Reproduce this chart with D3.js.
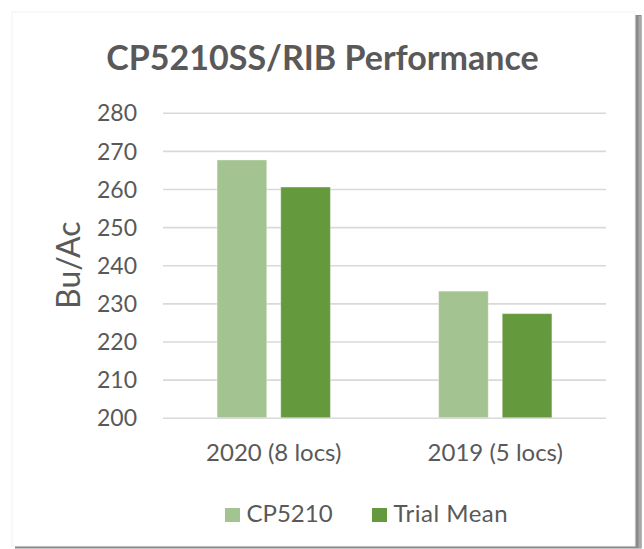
<!DOCTYPE html>
<html>
<head>
<meta charset="utf-8">
<script src="https://cdn.jsdelivr.net/npm/d3@7"></script>
<style>
  html, body { margin: 0; padding: 0; background: #ffffff; }
  svg { display: block; }
  text { font-family: Lato, "Open Sans", sans-serif; }
</style>
</head>
<body>
<svg id="chart" width="644" height="549"></svg>
<script>
const categories = ["2020 (8 locs)", "2019 (5 locs)"];
const seriesNames = ["CP5210", "Trial Mean"];
const cp5210 = [267.6, 233.2];
const trialMean = [260.5, 227.3];
const yTicks = [200, 210, 220, 230, 240, 250, 260, 270, 280];
const seriesColors = ["#A3C490", "#64993D"];
const titleText = "CP5210SS/RIB Performance";
const yTitle = "Bu/Ac";

(function () {
const svg = d3.select("#chart");

// card with shadow
svg.append("rect").attr("x", 15).attr("y", 15).attr("width", 626.5).attr("height", 533.5).attr("fill", "#8a8a8a");
svg.append("rect").attr("x", 638.5).attr("y", 16).attr("width", 3).attr("height", 532).attr("fill", "#a8a8a8");
svg.append("rect").attr("x", 12).attr("y", 12).attr("width", 623).attr("height", 534)
  .attr("fill", "#ffffff").attr("stroke", "#f2f2f2").attr("stroke-width", 1);

const pLeft = 163, pRight = 606, pTop = 112.7, pBottom = 417.7;

const y = d3.scaleLinear().domain([200, 280]).range([pBottom, pTop]);
const x0 = d3.scaleBand().domain(categories).range([pLeft, pRight]).padding(0);
const x1 = d3.scaleBand().domain(seriesNames).range([0, x0.bandwidth()])
  .paddingInner(0.22).paddingOuter(0.85);

// gridlines + y labels
const yAxis = d3.axisLeft(y).tickValues(yTicks).tickSize(-(pRight - pLeft)).tickPadding(26);
const gy = svg.append("g").attr("transform", `translate(${pLeft},0)`).call(yAxis);
gy.select(".domain").remove();
gy.selectAll(".tick line").attr("stroke", "#d9d9d9").attr("stroke-width", 1.6);
gy.selectAll(".tick text").attr("fill", "#595959").style("font-size", "23px")
  .style("font-family", "Lato, sans-serif").attr("dy", "0.36em");

// bars
const rows = categories.map((c, i) => ({ cat: c, vals: [cp5210[i], trialMean[i]] }));
const groups = svg.append("g").selectAll("g").data(rows).join("g")
  .attr("transform", d => `translate(${x0(d.cat)},0)`);
groups.selectAll("rect").data(d => d.vals.map((v, j) => ({ name: seriesNames[j], v, j })))
  .join("rect")
  .attr("x", d => x1(d.name))
  .attr("width", x1.bandwidth())
  .attr("y", d => y(d.v))
  .attr("height", d => y(200) - y(d.v))
  .attr("fill", d => seriesColors[d.j])
  .attr("stroke", "#ffffff").attr("stroke-opacity", 0.35).attr("stroke-width", 1);

// x axis labels
const xAxis = d3.axisBottom(x0).tickSize(0).tickPadding(26);
const gx = svg.append("g").attr("transform", `translate(0,${pBottom})`).call(xAxis);
gx.select(".domain").remove();
gx.selectAll(".tick text").attr("fill", "#595959").style("font-size", "24px")
  .style("font-family", "Lato, sans-serif");

// title
svg.append("text").attr("x", 322.5).attr("y", 70).attr("text-anchor", "middle")
  .attr("fill", "#595959").style("font-size", "34px").style("font-weight", "bold")
  .text(titleText);

// y title
svg.append("text").attr("transform", `translate(80,${(pTop + pBottom) / 2}) rotate(-90)`)
  .attr("text-anchor", "middle").attr("fill", "#595959").style("font-size", "32px")
  .text(yTitle);

// legend
const legendX = [225, 372];
const lg = svg.append("g").selectAll("g").data(seriesNames).join("g")
  .attr("transform", (d, i) => `translate(${legendX[i]},508)`);
lg.append("rect").attr("width", 15).attr("height", 14).attr("fill", (d, i) => seriesColors[i]);
lg.append("text").attr("x", 21.5).attr("y", 13.7).attr("fill", "#595959")
  .style("font-size", "24px").style("letter-spacing", (d, i) => i === 1 ? "0.5px" : "0px")
  .text(d => d);
})();
</script>
</body>
</html>
